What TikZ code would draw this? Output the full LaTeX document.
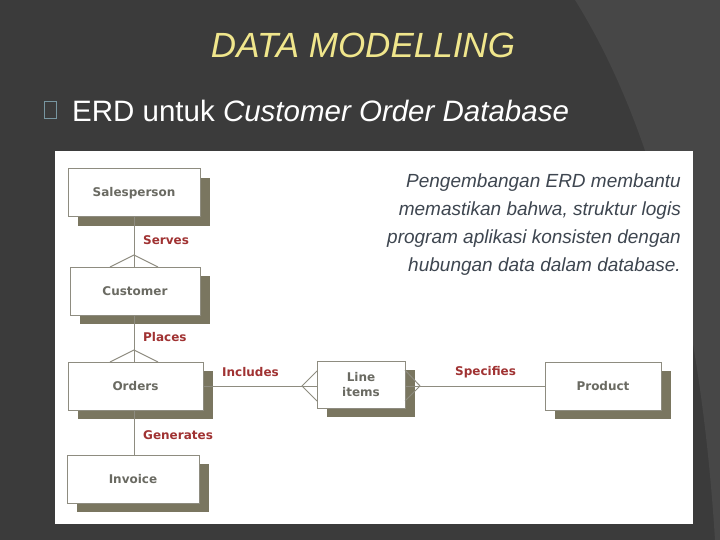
\documentclass[tikz,border=0pt]{standalone}
\usepackage{fontspec}
\setmainfont{Liberation Sans}
\newfontfamily\erdfont{DejaVu Sans}
\begin{document}
\begin{tikzpicture}[x=1pt,y=-1pt,
  ent/.style={draw=boxline,line width=1pt,fill=white,text=enttext,font=\erdfont\fontsize{12}{15}\selectfont\bfseries,align=center,inner sep=0pt},
  rel/.style={text=relred,font=\erdfont\fontsize{12}{14}\selectfont\bfseries,anchor=west,inner sep=0pt},
  conn/.style={draw=boxline,line width=1pt}]
\definecolor{bg}{HTML}{3B3B3B}
\definecolor{bglight}{HTML}{474747}
\definecolor{boxline}{HTML}{8E8C80}
\definecolor{shadowc}{HTML}{7A7660}
\definecolor{enttext}{HTML}{6A6A62}
\definecolor{relred}{HTML}{A03232}
\definecolor{titley}{HTML}{F0E68C}
\definecolor{paratext}{HTML}{3E4650}
\definecolor{bulletc}{HTML}{7896A0}
\useasboundingbox (0,0) rectangle (720,540);
\fill[bg] (0,0) rectangle (720,540);
\fill[bglight] (575,0) .. controls (650,120) and (700,300) .. (715,540) -- (720,540) -- (720,0) -- cycle;
\node[text=titley,font=\fontsize{35}{40}\selectfont\itshape] (title) at (363,45) {DATA MODELLING};
\draw[bulletc,line width=1pt] (44,102) rectangle (56,119);
\node[text=white,font=\fontsize{29.5}{34}\selectfont,anchor=west,inner sep=0pt] (sub) at (72,111) {ERD untuk \textit{Customer Order Database}};
\fill[white] (55,151) rectangle (693,524);
% shadows
\foreach \a/\b/\c/\d in {68/169/200/217, 70/267/200/315, 68/362/203/410, 67/455/199/503, 317/361/405/408, 545/362/661/410}{
  \fill[shadowc] (\a+10,\b+9) rectangle (\c+10,\d+9);
}
\node[ent,minimum width=132pt,minimum height=48pt] (sp) at (134,193) {Salesperson};
\node[ent,minimum width=130pt,minimum height=48pt] (cu) at (135,291) {Customer};
\node[ent,minimum width=135pt,minimum height=48pt] (or) at (135.5,386) {Orders};
\node[ent,minimum width=132pt,minimum height=48pt] (in) at (133,479) {Invoice};
\node[ent,minimum width=88pt,minimum height=47pt] (li) at (361,384.5) {Line\\items};
\node[ent,minimum width=116pt,minimum height=48pt] (pr) at (603,386) {Product};
\draw[conn] (sp.south -| 134,0) -- (cu.north -| 134,0);
\draw[conn] (110,267) -- (134,255) -- (158,267);
\draw[conn] (cu.south -| 134,0) -- (or.north -| 134,0);
\draw[conn] (110,362) -- (134,350) -- (158,362);
\draw[conn] (or.south -| 134,0) -- (in.north -| 134,0);
\draw[conn] (or.east) -- (li.west |- or.east);
\draw[conn] (317,371) -- (302,386) -- (317,401);
\draw[conn] (li.east |- pr.west) -- (pr.west);
\draw[conn] (405,370) -- (420,386) -- (405,401);
\node[rel] (l1) at (143,240) {Serves};
\node[rel] (l2) at (143,337) {Places};
\node[rel] (l3) at (222,372) {Includes};
\node[rel] (l4) at (455,372) {Specifies};
\node[rel] (l5) at (143,435) {Generates};
\node[text=paratext,font=\fontsize{19}{28}\selectfont\itshape,align=right,anchor=north east,inner sep=0pt] (para) at (681,174)
 {Pengembangan ERD membantu\\memastikan bahwa, struktur logis\\program aplikasi konsisten dengan\\hubungan data dalam database.};
\end{tikzpicture}
\end{document}
